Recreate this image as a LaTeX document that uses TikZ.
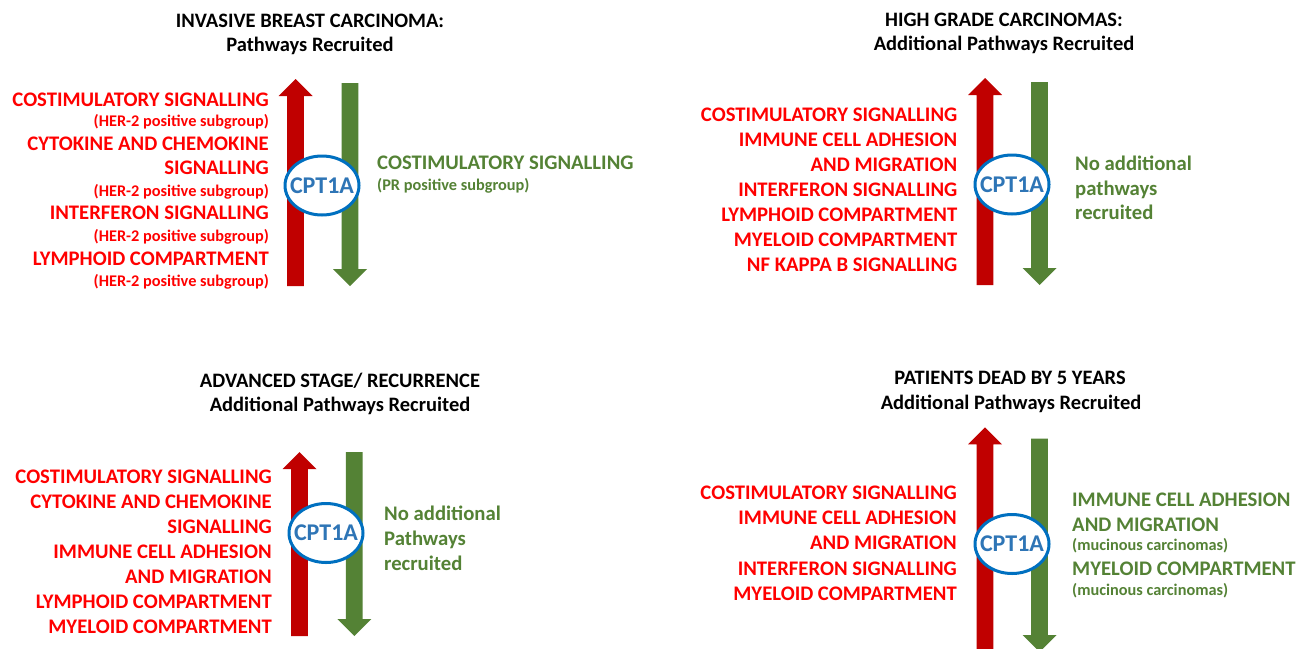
\documentclass[tikz,border=0pt]{standalone}
\usepackage{fontspec}
\setmainfont{Carlito}
\usetikzlibrary{shapes.geometric}
\definecolor{txtred}{HTML}{FF0000}
\definecolor{arrred}{HTML}{C00000}
\definecolor{grn}{HTML}{548235}
\definecolor{blueline}{HTML}{0070C0}
\definecolor{bluetxt}{HTML}{2E75B6}
\tikzset{
  title/.style={anchor=base, inner sep=0pt, font=\fontsize{20.5}{24}\selectfont\bfseries, text=black},
  redline/.style={anchor=base east, inner sep=0pt, font=\fontsize{20.7}{24}\selectfont\bfseries, text=txtred},
  redsmall/.style={anchor=base east, inner sep=0pt, font=\fontsize{16.3}{18}\selectfont\bfseries, text=txtred},
  grnline/.style={anchor=base west, inner sep=0pt, font=\fontsize{20.7}{24}\selectfont\bfseries, text=grn},
  grnsmall/.style={anchor=base west, inner sep=0pt, font=\fontsize{16.3}{18}\selectfont\bfseries, text=grn},
  cptring/.style={ellipse, draw=blueline, line width=3pt, fill=white, minimum width=74pt, minimum height=59pt, inner sep=0pt},
  cpttext/.style={inner sep=0pt, font=\fontsize{24}{26}\selectfont\bfseries, text=bluetxt},
}
% up arrow: x center, tip y, bottom y
\newcommand\redup[3]{\fill[arrred] (#1-8.3,#3) -- (#1-8.3,#2+17) -- (#1-17,#2+17) -- (#1,#2) -- (#1+17,#2+17) -- (#1+8.3,#2+17) -- (#1+8.3,#3) -- cycle;}
% down arrow: x center, top y, tip y
\newcommand\grndown[3]{\fill[grn] (#1-8.4,#2) -- (#1-8.4,#3-17) -- (#1-17,#3-17) -- (#1,#3) -- (#1+17,#3-17) -- (#1+8.4,#3-17) -- (#1+8.4,#2) -- cycle;}
\begin{document}
\begin{tikzpicture}[x=1pt,y=-1pt]
\useasboundingbox (0,0) rectangle (1311,648);
\clip (0,0) rectangle (1311,648);
\fill[white] (0,0) rectangle (1311,648);

% ---------- Panel 1 ----------
\node[title] (t1a) at (310,27.5) {INVASIVE BREAST CARCINOMA:};
\node[title] (t1b) at (310,51.5) {Pathways Recruited};
\redup{295.5}{79}{286}
\grndown{350}{83}{286}
\node[cptring] (c1) at (322,185.5) {};
\node[cpttext] (c1t) at (c1) {CPT1A};
\node[redline] (r1a) at (269,106) {COSTIMULATORY SIGNALLING};
\node[redsmall] (r1b) at (269,126.5) {(HER-2 positive subgroup)};
\node[redline] (r1c) at (269,150) {CYTOKINE AND CHEMOKINE};
\node[redline] (r1d) at (269,174) {SIGNALLING};
\node[redsmall] (r1e) at (269,196) {(HER-2 positive subgroup)};
\node[redline] (r1f) at (269,219) {INTERFERON SIGNALLING};
\node[redsmall] (r1g) at (269,241) {(HER-2 positive subgroup)};
\node[redline] (r1h) at (269,265) {LYMPHOID COMPARTMENT};
\node[redsmall] (r1i) at (269,286) {(HER-2 positive subgroup)};
\node[grnline] (g1a) at (377,169.5) {COSTIMULATORY SIGNALLING};
\node[grnsmall] (g1b) at (377,190) {(PR positive subgroup)};

% ---------- Panel 2 ----------
\node[title] (t2a) at (1004,26) {HIGH GRADE CARCINOMAS:};
\node[title] (t2b) at (1004,50.5) {Additional Pathways Recruited};
\redup{985}{78}{285}
\grndown{1039.5}{82}{285}
\node[cptring] (c2) at (1012,184.5) {};
\node[cpttext] (c2t) at (c2) {CPT1A};
\node[redline] (r2a) at (957.5,121.3) {COSTIMULATORY SIGNALLING};
\node[redline] (r2b) at (957.5,146.3) {IMMUNE CELL ADHESION};
\node[redline] (r2c) at (957.5,171.3) {AND MIGRATION};
\node[redline] (r2d) at (957.5,196.3) {INTERFERON SIGNALLING};
\node[redline] (r2e) at (957.5,221.5) {LYMPHOID COMPARTMENT};
\node[redline] (r2f) at (957.5,246.5) {MYELOID COMPARTMENT};
\node[redline] (r2g) at (957.5,271.5) {NF KAPPA B SIGNALLING};
\node[grnline] (g2a) at (1075,170) {No additional};
\node[grnline] (g2b) at (1075,195) {pathways};
\node[grnline] (g2c) at (1075,219.5) {recruited};

% ---------- Panel 3 ----------
\node[title] (t3a) at (340,387.3) {ADVANCED STAGE/ RECURRENCE};
\node[title] (t3b) at (340,411.5) {Additional Pathways Recruited};
\redup{299.5}{452}{636}
\grndown{354.3}{452}{636}
\node[cptring] (c3) at (326,533) {};
\node[cpttext] (c3t) at (c3) {CPT1A};
\node[redline] (r3a) at (272,483.3) {COSTIMULATORY SIGNALLING};
\node[redline] (r3b) at (272,508.3) {CYTOKINE AND CHEMOKINE};
\node[redline] (r3c) at (272,533.3) {SIGNALLING};
\node[redline] (r3d) at (272,558.3) {IMMUNE CELL ADHESION};
\node[redline] (r3e) at (272,583.3) {AND MIGRATION};
\node[redline] (r3f) at (272,608.3) {LYMPHOID COMPARTMENT};
\node[redline] (r3g) at (272,633.3) {MYELOID COMPARTMENT};
\node[grnline] (g3a) at (384,520) {No additional};
\node[grnline] (g3b) at (384,545) {Pathways};
\node[grnline] (g3c) at (384,570) {recruited};

% ---------- Panel 4 ----------
\node[title] (t4a) at (1010,384) {PATIENTS DEAD BY 5 YEARS};
\node[title] (t4b) at (1011,409) {Additional Pathways Recruited};
\redup{985}{427.3}{670}
\grndown{1039.5}{438.5}{652}
\node[cptring] (c4) at (1012,544) {};
\node[cpttext] (c4t) at (c4) {CPT1A};
\node[redline] (r4a) at (957,499.5) {COSTIMULATORY SIGNALLING};
\node[redline] (r4b) at (957,524.5) {IMMUNE CELL ADHESION};
\node[redline] (r4c) at (957,549.5) {AND MIGRATION};
\node[redline] (r4d) at (957,575) {INTERFERON SIGNALLING};
\node[redline] (r4e) at (957,600) {MYELOID COMPARTMENT};
\node[grnline] (g4a) at (1072,506) {IMMUNE CELL ADHESION};
\node[grnline] (g4b) at (1072,531) {AND MIGRATION};
\node[grnsmall] (g4c) at (1072,550) {(mucinous carcinomas)};
\node[grnline] (g4d) at (1072,575) {MYELOID COMPARTMENT};
\node[grnsmall] (g4e) at (1072,595.5) {(mucinous carcinomas)};
\end{tikzpicture}
\end{document}
